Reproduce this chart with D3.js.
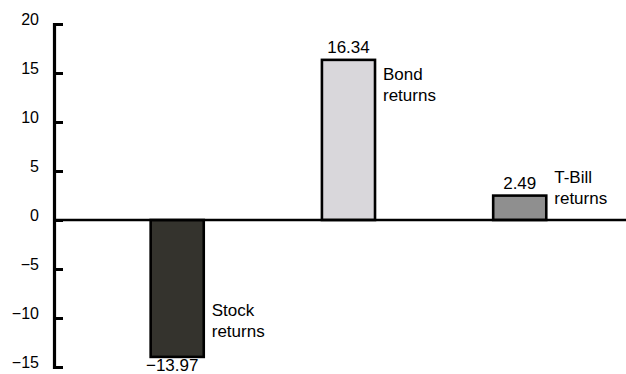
<!DOCTYPE html>
<html>
<head>
<meta charset="utf-8">
<script src="https://cdn.jsdelivr.net/npm/d3@7"></script>
<style>
  html, body { margin: 0; padding: 0; background: #fff; }
  svg { display: block; }
  text { font-family: "Liberation Sans", Arial, Helvetica, sans-serif; fill: #000; }
</style>
</head>
<body>
<svg id="chart" width="626" height="374"></svg>
<script>
// Annual returns by asset class (percent)
const categories = ["Stock", "Bond", "T-Bill"];
const values = [-13.97, 16.34, 2.49];
const labelLines = [["Stock", "returns"], ["Bond", "returns"], ["T-Bill", "returns"]];
// value (in percent units) where each side label's first line sits
const labelAnchors = [-9.75, 14.3, 3.8];
const fills = ["#34332d", "#d9d7db", "#8f8f8f"];
const yTicks = [-15, -10, -5, 0, 5, 10, 15, 20];

const width = 626, height = 374;
const svg = d3.select("#chart");

const x = d3.scaleBand()
  .domain(categories)
  .range([54, 626])
  .paddingInner(0.69)
  .paddingOuter(0.515)
  .align(0.548);

const y = d3.scaleLinear()
  .domain([-15, 20])
  .range([367, 24]);

const axisX = x.range()[0];
const labelSize = "17px";

// bars
svg.append("g").selectAll("rect")
  .data(categories)
  .join("rect")
  .attr("x", d => x(d))
  .attr("width", x.bandwidth())
  .attr("y", (d, i) => y(Math.max(0, values[i])))
  .attr("height", (d, i) => Math.abs(y(values[i]) - y(0)))
  .attr("fill", (d, i) => fills[i])
  .attr("stroke", "#000")
  .attr("stroke-width", 2.6);

// zero baseline
svg.append("line")
  .attr("x1", axisX).attr("x2", width)
  .attr("y1", y(0)).attr("y2", y(0))
  .attr("stroke", "#000")
  .attr("stroke-width", 2.4);

// y axis: ticks point inward, labels sit on the tick line
const yAxis = d3.axisLeft(y)
  .tickValues(yTicks)
  .tickFormat(d3.format("d"))
  .tickSize(-9)
  .tickSizeOuter(0)
  .tickPadding(15);

const gy = svg.append("g")
  .attr("transform", `translate(${axisX},0)`)
  .call(yAxis);
gy.select(".domain").attr("stroke-width", 3.2).attr("stroke-linecap", "square");
gy.selectAll(".tick line").attr("stroke-width", 3);
gy.selectAll(".tick text")
  .attr("dy", "0")
  .style("font-size", "16px")
  .style("font-family", "'Liberation Sans', Arial, Helvetica, sans-serif");

// value labels
const fmt = d3.format(".2f");
const valueLabels = svg.append("g").selectAll("text")
  .data(categories)
  .join("text")
  .attr("x", d => x(d) + x.bandwidth() / 2)
  .attr("y", (d, i) => values[i] >= 0 ? y(values[i]) - 7 : y(values[i]) + 14)
  .attr("text-anchor", "middle")
  .style("font-size", labelSize)
  .text((d, i) => fmt(values[i]));

// keep the digits centred on the bar; a leading minus hangs to the left
valueLabels.each(function (d, i) {
  if (values[i] < 0) {
    const full = this.getComputedTextLength();
    const tmp = svg.append("text").style("font-size", labelSize).text(fmt(Math.abs(values[i])));
    const abs = tmp.node().getComputedTextLength();
    tmp.remove();
    d3.select(this).attr("dx", -(full - abs) / 2);
  }
});

// side labels
svg.append("g").selectAll("text")
  .data(categories)
  .join("text")
  .attr("x", d => x(d) + x.bandwidth() + 8)
  .attr("y", (d, i) => y(labelAnchors[i]))
  .style("font-size", labelSize)
  .selectAll("tspan")
  .data((d, i) => labelLines[i])
  .join("tspan")
  .attr("x", function () { return this.parentNode.getAttribute("x"); })
  .attr("dy", (d, j) => j === 0 ? 0 : 21)
  .text(d => d);
</script>
</body>
</html>
